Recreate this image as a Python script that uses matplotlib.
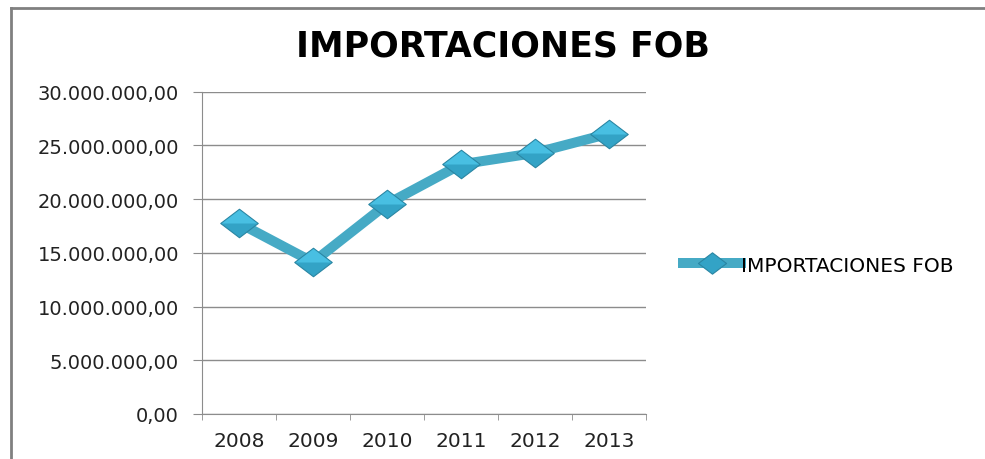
import matplotlib
matplotlib.use('Agg')
import matplotlib.pyplot as plt
from matplotlib.path import Path
from matplotlib.lines import Line2D
from matplotlib.ticker import FuncFormatter, FixedLocator

years = ['2008', '2009', '2010', '2011', '2012', '2013']
importaciones = [17770000, 14130000, 19540000, 23230000, 24290000, 26090000]
serie = 'IMPORTACIONES FOB'
titulo = 'IMPORTACIONES FOB'

line_col = '#46aac5'
face_dark = '#33a3c6'
face_light = '#48bfe2'
edge_col = '#2a86a3'
grid_col = '#8c8c8c'

# flattened diamond and its upper half (lighter shade)
diamond = Path([(-1, 0), (0, 0.76), (1, 0), (0, -0.76), (-1, 0)],
               [Path.MOVETO, Path.LINETO, Path.LINETO, Path.LINETO, Path.CLOSEPOLY])
diamond_top = Path([(-1, 0), (0, 0.76), (1, 0), (-1, 0)],
                   [Path.MOVETO, Path.LINETO, Path.LINETO, Path.CLOSEPOLY])

def fmt(v, pos=None):
    s = f"{v:,.2f}"
    return s.replace(',', 'X').replace('.', ',').replace('X', '.')

fig = plt.figure(figsize=(9.85, 4.6), dpi=100)
ax = fig.add_axes([202/985, 1 - 415/460, 444/985, (415 - 92.6)/460])

x = list(range(len(years)))
ax.plot(x, importaciones, color=line_col, lw=7.2, solid_joinstyle='round',
        marker=diamond, markersize=27, markerfacecolor=face_dark,
        markeredgecolor=edge_col, markeredgewidth=0.8, label=serie, zorder=3)
ax.plot(x, importaciones, ls='none', marker=diamond_top, markersize=25.5,
        markerfacecolor=face_light, markeredgewidth=0, zorder=4)

ax.set_ylim(0, 30000000)
ax.set_xlim(-0.5, len(years) - 0.5)
ax.set_yticks(range(0, 30000001, 5000000))
ax.yaxis.set_major_formatter(FuncFormatter(fmt))
ax.set_xticks(x)
ax.set_xticklabels(years)
ax.xaxis.set_minor_locator(FixedLocator([i - 0.5 for i in range(len(years) + 1)]))

ax.grid(axis='y', color=grid_col, lw=1)
ax.set_axisbelow(True)
for s in ['top', 'right']:
    ax.spines[s].set_visible(False)
ax.spines['left'].set_color(grid_col)
ax.spines['bottom'].set_color(grid_col)

ax.tick_params(axis='y', length=6.5, color=grid_col, pad=10, labelsize=14, labelcolor='#222222')
ax.tick_params(axis='x', which='major', length=0, pad=12, labelsize=14.5, labelcolor='#222222')
ax.tick_params(axis='x', which='minor', length=4, color=grid_col)

fig.text(0.511, 1 - 46.5/460, titulo, ha='center', va='center', fontsize=25,
         fontweight='bold')

leg = ax.legend(loc='center left', bbox_to_anchor=(683/985, 1 - 266/460),
                bbox_transform=fig.transFigure, frameon=False, fontsize=14.5,
                markerscale=0.75, handlelength=2.9, handletextpad=0.0,
                borderpad=0, borderaxespad=0)

fig.add_artist(Line2D([10.5/985, 10.5/985], [0, 1 - 9/460], color='#808080', lw=2))
fig.add_artist(Line2D([10.5/985, 1], [1 - 9/460, 1 - 9/460], color='#808080', lw=2))

fig.savefig('out.png', dpi=100)
